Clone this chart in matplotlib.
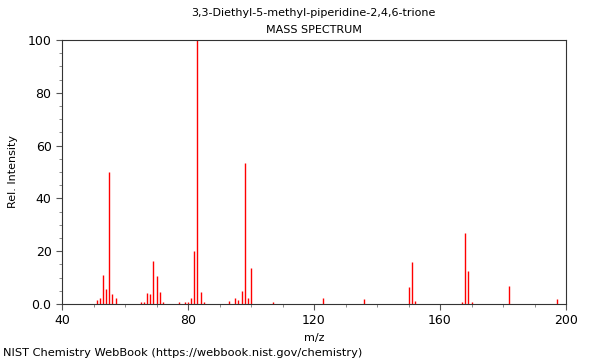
"""
Mass spectrum of 3,3-Diethyl-5-methyl-piperidine-2,4,6-trione (NIST style).
"""

import matplotlib
matplotlib.use('Agg')
import matplotlib.pyplot as plt
from matplotlib.ticker import MultipleLocator, FuncFormatter

# peak positions (m/z) and relative intensities
mz = [51, 52, 53, 54, 55, 56, 57,
      65, 66, 67, 68, 69, 70, 71, 72,
      77, 79, 80, 81, 82, 83, 84, 85,
      93, 95, 96, 97, 98, 99, 100, 107,
      123, 136, 150, 151, 152,
      167, 168, 169, 170, 182, 197]
intensity = [1.6, 2.4, 11.0, 5.8, 49.9, 3.8, 2.4,
             0.8, 0.6, 4.3, 3.8, 16.3, 10.6, 4.7, 0.8,
             0.9, 0.9, 0.9, 2.4, 20.2, 100.0, 4.7, 0.9,
             1.3, 2.4, 1.5, 5.0, 53.3, 2.4, 13.6, 0.8,
             2.3, 1.8, 6.6, 15.9, 1.0,
             0.9, 26.8, 12.5, 0.9, 6.8, 1.8]

title = '3,3-Diethyl-5-methyl-piperidine-2,4,6-trione'
footer = 'NIST Chemistry WebBook (https://webbook.nist.gov/chemistry)'

fig = plt.figure(figsize=(6, 3.6), dpi=100)
ax = fig.add_axes([62 / 600, 1 - 304 / 360, 504 / 600, 264 / 360])

ax.vlines(mz, 0, intensity, colors='red', linewidth=1)

ax.set_xlim(40, 200)
ax.set_ylim(0, 100)
ax.xaxis.set_major_locator(MultipleLocator(40))
ax.xaxis.set_minor_locator(MultipleLocator(10))
ax.yaxis.set_major_locator(MultipleLocator(20))
ax.yaxis.set_minor_locator(MultipleLocator(5))
ax.yaxis.set_major_formatter(
    FuncFormatter(lambda v, p: '0.0' if v == 0 else '%d' % v))

for s in ax.spines.values():
    s.set_color('#333333')
    s.set_linewidth(0.8)
ax.tick_params(which='major', direction='out', length=4, width=0.8,
               color='#555555', labelsize=9)
ax.tick_params(which='minor', direction='out', length=2.5, width=0.6,
               color='#777777')

ax.set_xlabel('m/z', fontsize=8)
ax.set_ylabel('Rel. Intensity', fontsize=8, labelpad=7)

fig.text(0.523, 1 - 13 / 360, title, ha='center', va='center', fontsize=8)
fig.text(0.523, 1 - 30 / 360, 'MASS SPECTRUM', ha='center', va='center',
         fontsize=8)
fig.text(3 / 600, 1 - 353 / 360, footer, ha='left', va='center', fontsize=8.2)

fig.savefig('out.png', dpi=100)
